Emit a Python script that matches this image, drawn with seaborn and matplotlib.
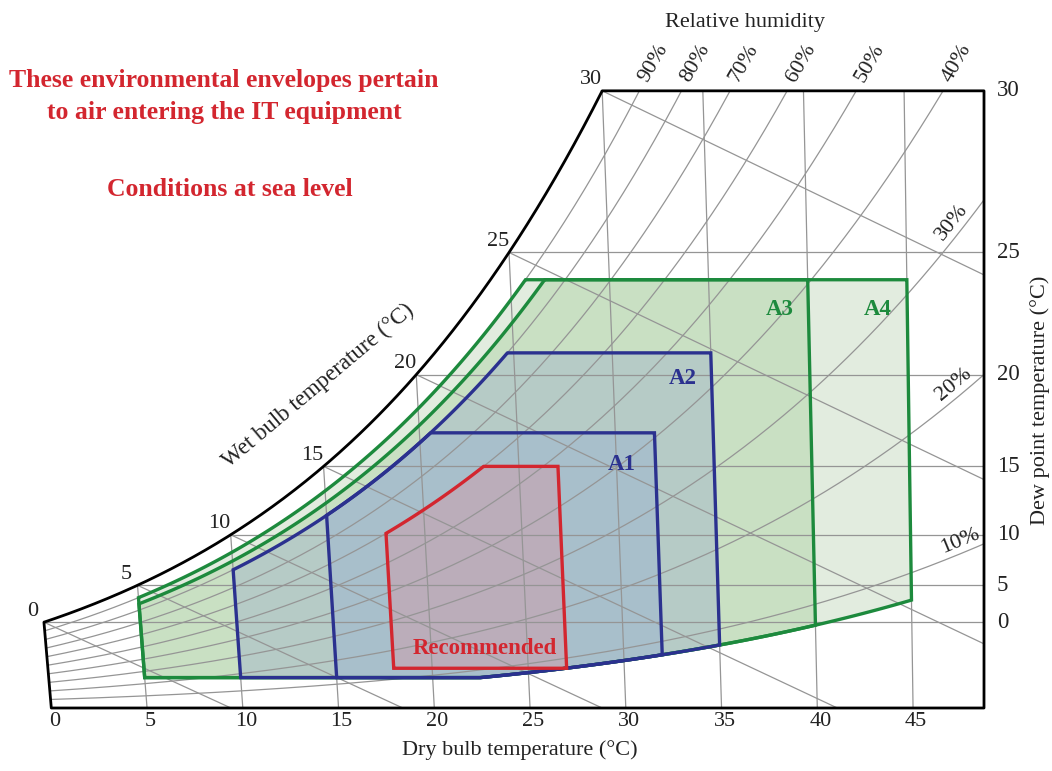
import numpy as np
import pandas as pd
import matplotlib
matplotlib.use("Agg")
import matplotlib.pyplot as plt
import seaborn as sns
from matplotlib.patches import Polygon

# ---------------- data ----------------
dry_bulb_ticks = [0, 5, 10, 15, 20, 25, 30, 35, 40, 45]
dew_point_ticks = [0, 5, 10, 15, 20, 25, 30]
wet_bulb_ticks = [0, 5, 10, 15, 20, 25, 30]
rh_levels = [10, 20, 30, 40, 50, 60, 70, 80, 90]
rh_top_labels = [90, 80, 70, 60, 50, 40]
rh_side_labels = [30, 20, 10]

classes = ["A4", "A3", "A2", "A1", "Recommended"]
t_min = [5, 5, 10, 15, 18]          # dry bulb lower limit (°C)
t_max = [45, 40, 35, 32, 27]        # dry bulb upper limit (°C)
dp_min = [-12, -12, -12, -12, -9]   # dew point lower limit (°C)
rh_min = [8, 8, 8, 8, 0]            # RH lower limit (%)
dp_max = [24, 24, 21, 17, 15]       # dew point upper limit (°C)
rh_max = [90, 85, 80, 80, 60]       # RH upper limit (%)

fill_colors = ["#e2ecdf", "#c9e0c3", "#b6cbc6", "#a8bfcb", "#bbadba"]
edge_colors = ["#1d8a3d", "#1d8a3d", "#2b318f", "#2b318f", "#d3262f"]
label_colors = ["#1d8a3d", "#1d8a3d", "#2b318f", "#2b318f", "#d3262f"]

# ---------------- psychrometrics (chart coordinate system) ----------------
P_ATM = 101.325


def psat(t):
    t = np.asarray(t, dtype=float)
    return np.where(t >= 0,
                    0.61094 * np.exp(17.625 * t / (t + 243.04)),
                    0.61115 * np.exp(22.452 * t / (272.55 + t)))


def w_from_pw(pw):
    return 621.945 * pw / (P_ATM - pw)


def w_rh(t, rh):
    return w_from_pw(rh / 100.0 * psat(t))


def w_dp(td):
    return w_from_pw(psat(td))


def w_wb(t, twb):
    ws = w_from_pw(psat(twb)) / 1000.0
    return 1000.0 * ((2501 - 2.326 * twb) * ws - 1.006 * (t - twb)) / (2501 + 1.86 * t - 4.186 * twb)


# chart geometry (pixels of a 1052x771 canvas)
PX0, KX = 51.3, 19.15
PY0, KY = 708.0, 22.74
W_TOP = float(w_dp(30))


def cx(t, w):
    """oblique x coordinate of a (dry bulb, humidity ratio) state"""
    t = np.asarray(t, dtype=float)
    return t + np.asarray(w) * (-1.95 + 0.036 * t) / KX


XR = (984 - PX0) / KX

sns.set_theme(style="white")
plt.rcParams["font.family"] = ["Liberation Serif", "DejaVu Serif"]

fig = plt.figure(figsize=(10.52, 7.71), dpi=100)
ax = fig.add_axes([0, 0, 1, 1])
ax.set_xlim(-PX0 / KX, (1052 - PX0) / KX)
ax.set_ylim((PY0 - 771) / KY, PY0 / KY)
ax.axis("off")

# chart region (for clipping)
ts = np.linspace(30, 0, 300)
ws_sat = w_dp(ts)
reg_x = np.concatenate([[0, XR, XR], cx(ts, ws_sat)])
reg_y = np.concatenate([[0, 0, W_TOP], ws_sat])
region = Polygon(np.column_stack([reg_x, reg_y]), closed=True, fc="none", ec="none")
ax.add_patch(region)

GRID = "#959595"
GLW = 0.9
grid_lines = []

# envelope fills
env_paths = []
for i in range(len(classes)):
    T = np.linspace(t_min[i], t_max[i], 600)
    w_lo = np.full_like(T, float(w_dp(dp_min[i])))
    if rh_min[i] > 0:
        w_lo = np.maximum(w_lo, w_rh(T, rh_min[i]))
    w_hi = np.minimum(float(w_dp(dp_max[i])), w_rh(T, rh_max[i]))
    xs = np.concatenate([cx(T, w_hi), cx(T[::-1], w_lo[::-1])])
    ys = np.concatenate([w_hi, w_lo[::-1]])
    env_paths.append((xs, ys, T, w_hi, w_lo))
    ax.fill(xs, ys, color=fill_colors[i], lw=0, zorder=1)

# dry bulb lines
wl = np.linspace(0, W_TOP, 50)
for t in dry_bulb_ticks[1:]:
    grid_lines += ax.plot(cx(t, wl), wl, color=GRID, lw=GLW, zorder=2)
# dew point lines
for d in dew_point_ticks[:-1]:
    wd = float(w_dp(d))
    grid_lines += ax.plot([-3, XR], [wd, wd], color=GRID, lw=GLW, zorder=2)
# wet bulb lines
for twb in wet_bulb_ticks:
    tt = np.linspace(twb, 80, 400)
    ww = w_wb(tt, twb)
    m = ww > -1
    grid_lines += ax.plot(cx(tt[m], ww[m]), ww[m], color=GRID, lw=GLW, zorder=2)

# relative humidity curves with seaborn
rows = []
tr = np.linspace(0, 55, 400)
for rh in rh_levels:
    wr = w_rh(tr, rh)
    for a, b in zip(cx(tr, wr), wr):
        rows.append((a, b, rh))
df_rh = pd.DataFrame(rows, columns=["X", "W", "rh"])
n0 = len(ax.lines)
sns.lineplot(data=df_rh, x="X", y="W", units="rh", estimator=None, sort=False,
             color=GRID, lw=GLW, ax=ax, legend=False, zorder=2)
grid_lines += ax.lines[n0:]
for ln in grid_lines:
    ln.set_clip_path(region)
ax.set_xlabel("")
ax.set_ylabel("")

# envelope outlines
for i in range(len(classes)):
    xs, ys = env_paths[i][0], env_paths[i][1]
    ax.fill(xs, ys, fill=False, ec=edge_colors[i], lw=2.4, zorder=4, joinstyle="miter")

# borders and saturation curve
ax.plot(cx(ts, ws_sat), ws_sat, color="black", lw=2.0, zorder=5, solid_capstyle="butt")
ax.plot([cx(0, w_dp(0)), 0, XR, XR, cx(30, W_TOP)],
        [float(w_dp(0)), 0, 0, W_TOP, W_TOP], color="black", lw=2.0, zorder=5)


def px2d(dx, dy):
    return dx / KX, -dy / KY


FS = 16
TXT = "#222222"
# bottom dry bulb labels
for t in dry_bulb_ticks:
    ax.text(t + 3 / KX, -14 / KY, str(t), ha="center", va="center", fontsize=FS, color=TXT)
ax.text((520 - PX0) / KX, (PY0 - 750) / KY, "Dry bulb temperature (°C)", ha="center", va="center",
        fontsize=FS, color=TXT)
# right dew point labels
for d in dew_point_ticks:
    ax.text((997 - PX0) / KX, float(w_dp(d)), str(d), ha="left", va="center", fontsize=FS + 0.5, color=TXT)
ax.text((1040 - PX0) / KX, (PY0 - 400) / KY, "Dew point temperature (°C)", ha="center", va="center",
        rotation=90, fontsize=FS, color=TXT)
# wet bulb labels on saturation curve
for twb in wet_bulb_ticks:
    wsat = float(w_dp(twb))
    dx, dy = px2d(-11, -11)
    ax.text(cx(twb, wsat) + dx, wsat + dy, str(twb), ha="center", va="center", fontsize=FS, color=TXT)
ax.text((318 - PX0) / KX, (PY0 - 386) / KY, "Wet bulb temperature (°C)", ha="center", va="center",
        rotation=40, fontsize=FS + 0.5, color=TXT)
# relative humidity labels
ax.text((745 - PX0) / KX, (PY0 - 22) / KY, "Relative humidity", ha="center", va="center",
        fontsize=FS, color=TXT)
tf = np.linspace(0, 60, 6000)
for rh in rh_top_labels:
    wr = w_rh(tf, rh)
    k = np.argmax(wr >= W_TOP)
    xt = float(cx(tf[k], W_TOP))
    dx, dy = px2d(14, -28)
    ax.text(xt + dx, W_TOP + dy, f"{rh}%", ha="center", va="center", rotation=60,
            fontsize=16, color=TXT)
side_px = {30: 961, 20: 961, 10: 965}
for rh in rh_side_labels:
    wr = w_rh(tf, rh)
    xr = cx(tf, wr)
    target = (side_px[rh] - PX0) / KX
    k = np.argmax(xr >= target)
    dxp = (xr[k + 5] - xr[k - 5]) * KX
    dyp = (wr[k + 5] - wr[k - 5]) * KY
    ang = np.degrees(np.arctan2(dyp, dxp))
    nx, ny = -np.sin(np.radians(ang)), np.cos(np.radians(ang))
    off = 12
    ax.text(xr[k] + off * nx / KX, wr[k] + off * ny / KY, f"{rh}%", ha="center", va="center",
            rotation=ang, fontsize=16, color=TXT)

# class labels
label_off = {"A1": (-33, 32), "A2": (-28, 26), "A3": (-28, 30), "A4": (-29, 30)}
for i, name in enumerate(classes):
    xs, ys, T, w_hi, w_lo = env_paths[i]
    if name in label_off:
        ox, oy = label_off[name]
        bx, by = float(cx(T[-1], w_hi[-1])), float(w_hi[-1])
    else:
        ox, oy = 4, -20
        j = len(T) // 2
        bx, by = float(cx(T[j], w_lo[j])), float(w_lo[j])
    dx, dy = px2d(ox, oy)
    ax.text(bx + dx, by + dy, name, ha="center", va="center", fontsize=16.5, fontweight="bold",
            color=label_colors[i], zorder=6)

# red notes
RED = "#d3262f"
for txt, (px, py) in [("These environmental envelopes pertain", (224, 80)),
                      ("to air entering the IT equipment", (224, 112)),
                      ("Conditions at sea level", (230, 189))]:
    ax.text((px - PX0) / KX, (PY0 - py) / KY, txt, ha="center", va="center", fontsize=18.5,
            fontweight="bold", color=RED)

fig.savefig("out.png", dpi=100)
